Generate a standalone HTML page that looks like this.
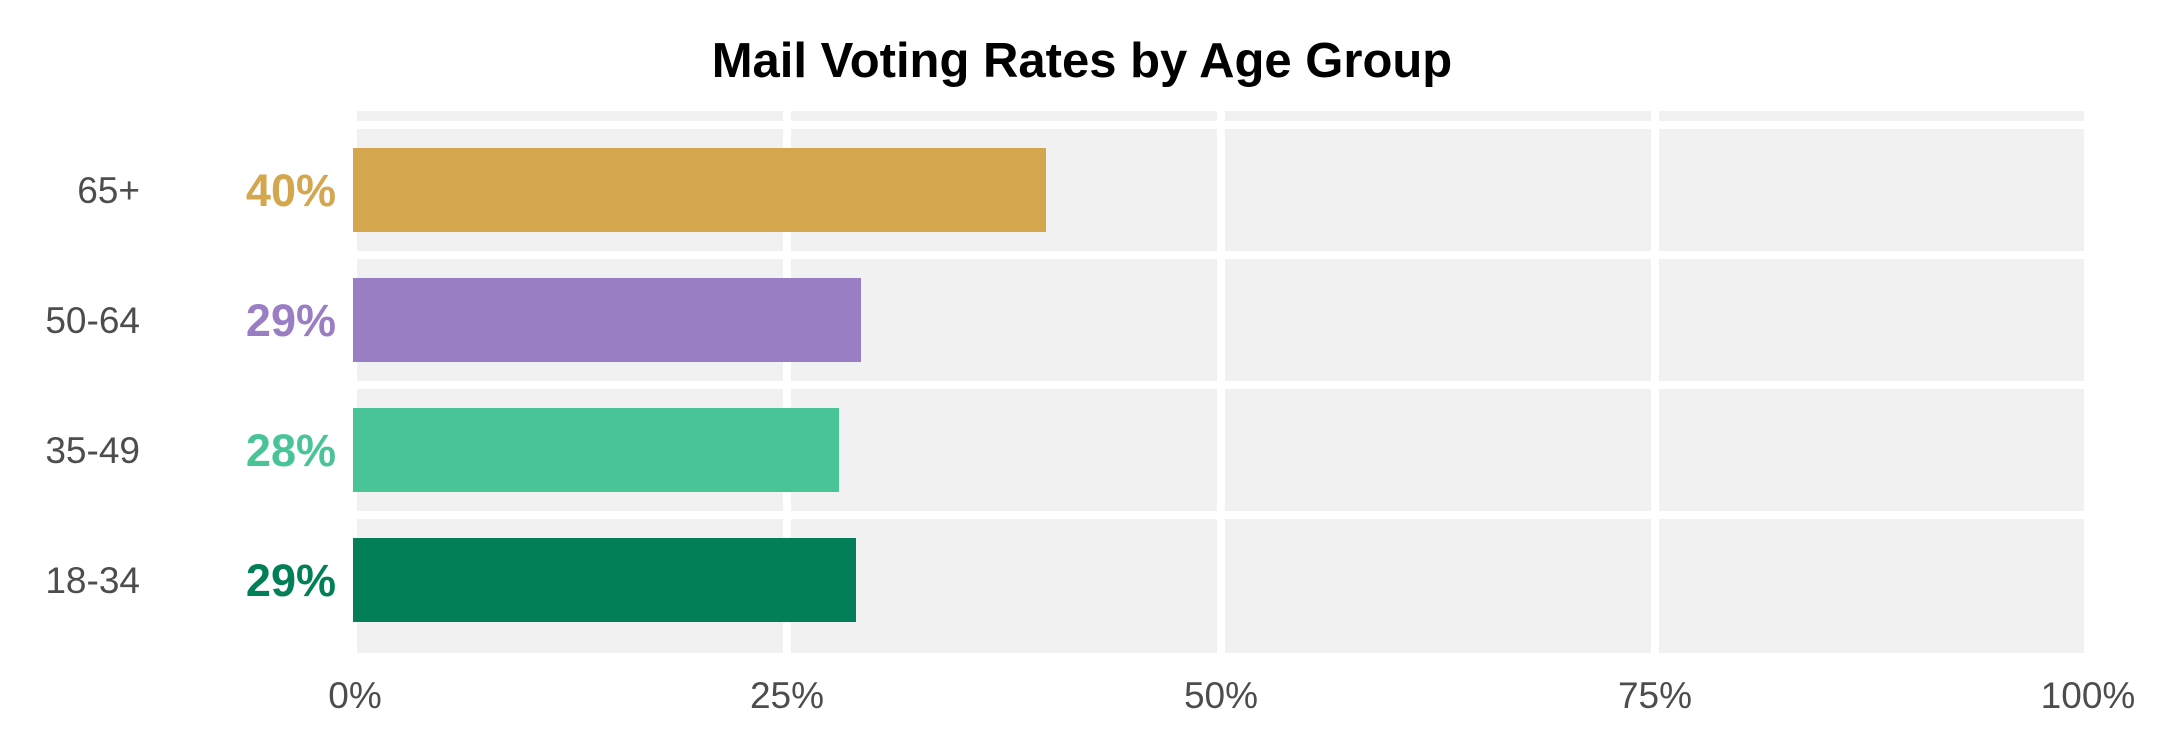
<!DOCTYPE html>
<html><head><style>
body{margin:0;background:#fff;}
svg text{font-family:"Liberation Sans",Arial,sans-serif;}
</style></head><body>
<svg width="2180" height="749" viewBox="0 0 2180 749" xmlns="http://www.w3.org/2000/svg">
<rect width="2180" height="749" fill="#fff"/>
<text x="1082" y="77" font-size="49" font-weight="bold" text-anchor="middle" fill="#000">Mail Voting Rates by Age Group</text>
<rect x="357" y="111" width="1731" height="542" fill="#f1f1f1"/>
<g fill="#fff">
<rect x="349" y="111" width="8" height="542"/>
<rect x="783" y="111" width="8" height="542"/>
<rect x="1217" y="111" width="8" height="542"/>
<rect x="1651" y="111" width="8" height="542"/>
<rect x="2084" y="111" width="8" height="542"/>
<rect x="349" y="121" width="1743" height="8"/>
<rect x="349" y="251" width="1743" height="8"/>
<rect x="349" y="381" width="1743" height="8"/>
<rect x="349" y="511" width="1743" height="8"/>
</g>
<rect x="353" y="148" width="693" height="84" fill="#D4A64E"/>
<rect x="353" y="278" width="508" height="84" fill="#9A7EC4"/>
<rect x="353" y="408" width="486" height="84" fill="#48C496"/>
<rect x="353" y="538" width="503" height="84" fill="#027F59"/>
<g font-size="45" font-weight="bold" text-anchor="end">
<text x="336" y="206" fill="#D4A64E">40%</text>
<text x="336" y="336" fill="#9A7EC4">29%</text>
<text x="336" y="466" fill="#48C496">28%</text>
<text x="336" y="596" fill="#027F59">29%</text>
</g>
<g font-size="37" fill="#4d4d4d" text-anchor="end">
<text x="140" y="203">65+</text>
<text x="140" y="333">50-64</text>
<text x="140" y="463">35-49</text>
<text x="140" y="593">18-34</text>
</g>
<g font-size="37" fill="#4d4d4d" text-anchor="middle">
<text x="355" y="708">0%</text>
<text x="787" y="708">25%</text>
<text x="1221" y="708">50%</text>
<text x="1655" y="708">75%</text>
<text x="2088" y="708">100%</text>
</g>
</svg>
</body></html>
